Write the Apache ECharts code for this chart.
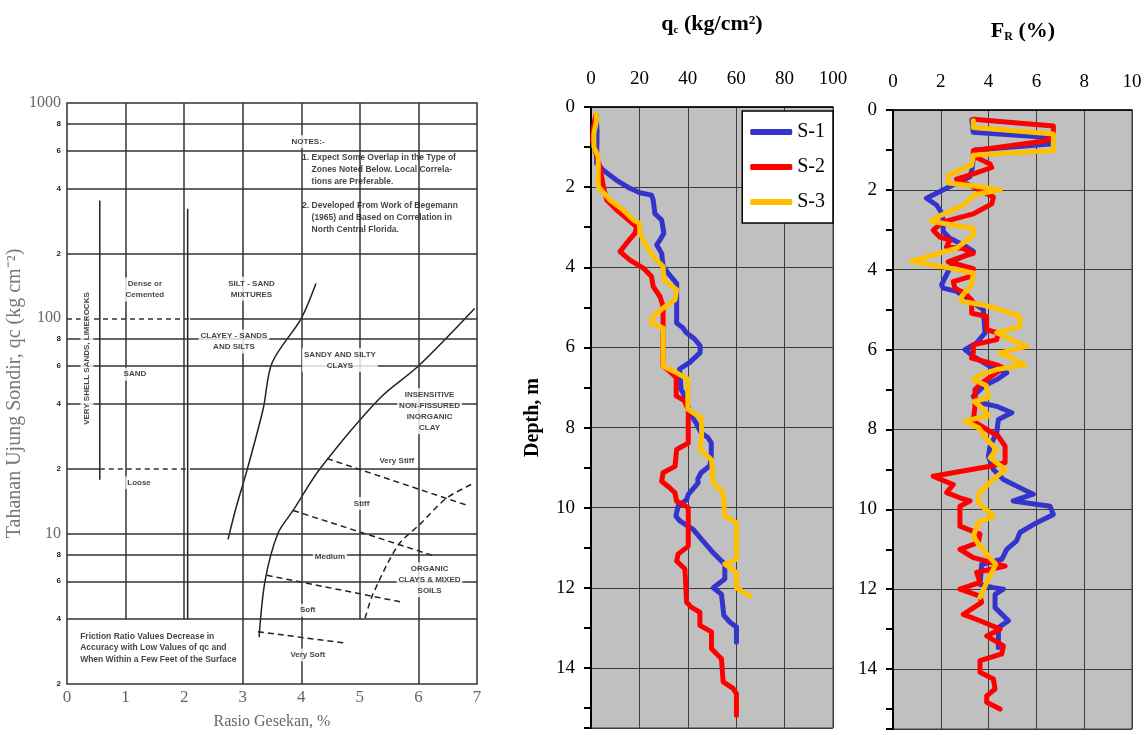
<!DOCTYPE html>
<html lang="en">
<head>
<meta charset="UTF-8">
<title>CPT profiles</title>
<script src="https://cdn.jsdelivr.net/npm/echarts@6/dist/echarts.min.js"></script>
<style>
  html, body { margin: 0; padding: 0; background: #fff; }
  #chart { width: 1148px; height: 735px; }
</style>
</head>
<body>
<div id="chart"></div>
<script>
  // ---- left: classification chart (friction ratio % vs qc, log) ----
  var qcTicks = [2, 4, 6, 8, 10, 20, 40, 60, 80, 100, 200, 400, 600, 800, 1000];
  var hGridFull = [800, 600, 400, 200, 80, 60, 40, 10, 8, 6, 4];
  var vGridFull = [3, 4, 6];
  var vGridTo4 = [1, 2, 5];

  var siltSandLine = [[2.75, 9.4], [2.88, 13], [3.08, 20], [3.35, 38], [3.5, 62], [4.0, 100], [4.25, 145]];
  var clayLine = [[3.28, 3.3], [3.38, 6], [3.6, 10], [3.86, 12.8], [4.32, 20], [5.34, 42.5], [6.0, 60], [6.96, 111]];
  var organicLine = [[5.09, 4.05], [5.22, 5.2], [5.65, 8.8], [6.02, 11], [6.48, 14.6], [6.96, 17.2]];
  var veryStiffLine = [[4.44, 22.3], [6.84, 13.5]];
  var stiffLine = [[3.86, 12.8], [6.25, 7.9]];
  var mediumLine = [[3.41, 6.4], [5.72, 4.8]];
  var softLine = [[3.26, 3.5], [4.74, 3.1]];
  var shellLine = [[0.56, 352], [0.56, 17.8]];
  var sandLine = [[2.06, 323], [2.06, 4]];

  var zoneLabels = [
    { name: 'Dense or\nCemented', value: [1.33, 136] },
    { name: 'SILT - SAND\nMIXTURES', value: [3.15, 137] },
    { name: 'CLAYEY - SANDS\nAND SILTS', value: [2.85, 78] },
    { name: 'SAND', value: [1.16, 55] },
    { name: 'SANDY AND SILTY\nCLAYS', value: [4.66, 64] },
    { name: 'INSENSITIVE\nNON-FISSURED\nINORGANIC\nCLAY', value: [6.19, 37] },
    { name: 'Very Stiff', value: [5.63, 21.7] },
    { name: 'Stiff', value: [5.03, 13.8] },
    { name: 'Medium', value: [4.49, 7.8] },
    { name: 'ORGANIC\nCLAYS & MIXED\nSOILS', value: [6.19, 6.1] },
    { name: 'Soft', value: [4.11, 4.4] },
    { name: 'Very Soft', value: [4.11, 2.73] },
    { name: 'Loose', value: [1.23, 17.2] }
  ];
  var shellLabel = { name: 'VERY SHELL SANDS, LIMEROCKS', value: [0.34, 65] };
  var notesTitle = { name: 'NOTES:-', value: [3.8, 660] };
  var notesText = { name: '1. Expect Some Overlap in the Type of\n    Zones Noted Below. Local Correla-\n    tions are Preferable.\n\n2. Developed From Work of Begemann\n    (1965) and Based on Correlation in\n    North Central Florida.', value: [3.98, 380] };
  var frictionNote = { name: 'Friction Ratio Values Decrease in\nAccuracy with Low Values of qc and\nWhen Within a Few Feet of the Surface', value: [0.19, 2.94] };

  // ---- CPT profiles: [depth m, qc kg/cm2] ----
  var s1Qc = [[0.2, 2.1], [0.6, 2.5], [1.4, 2.3], [1.58, 5.1], [1.83, 10.6], [2.03, 16.1], [2.14, 20.2], [2.2, 25],
    [2.32, 25.7], [2.66, 26.4], [2.82, 29.2], [3.15, 30.1], [3.32, 28.5], [3.44, 27.1], [3.65, 29.2], [3.98, 29.8],
    [4.15, 31.9], [4.4, 35.4], [5.39, 35.4], [5.52, 38.1], [5.63, 39.3], [5.79, 42.8], [5.96, 45.1], [6.13, 45.1],
    [6.38, 40.7], [6.54, 36.6], [7.04, 37.2], [7.3, 39.5], [7.6, 40.5], [7.9, 43.5], [8.13, 45.5], [8.25, 48.3],
    [8.38, 49.7], [8.79, 49.7], [8.96, 49], [9.13, 45.5], [9.29, 44.1], [9.38, 44.3], [9.67, 40.2], [9.8, 39.5],
    [9.96, 36], [10.21, 35.1], [10.33, 36.7], [10.54, 42.2], [10.79, 45.7], [11.08, 49.8], [11.33, 53.9],
    [11.41, 55.3], [11.78, 55.3], [12.0, 50.5], [12.16, 53.9], [12.69, 54.9], [12.86, 57.4], [12.98, 60.1], [13.36, 60.1]];
  var s2Qc = [[0.2, 2], [0.5, 1], [0.83, 0.7], [1.08, 1.7], [1.49, 3.7], [1.99, 5.1], [2.32, 6.5], [2.57, 10.6],
    [2.78, 14.7], [2.99, 18.8], [3.15, 18.2], [3.4, 14.7], [3.61, 12], [3.82, 16.1], [4.02, 21.6], [4.23, 25],
    [4.48, 25.7], [4.73, 28.5], [4.98, 29.8], [6.46, 29.7], [6.63, 33.1], [6.75, 35.2], [7.21, 35.2], [7.33, 38.6],
    [7.56, 40.2], [8.39, 40.2], [8.55, 35.4], [8.97, 34.7], [9.13, 29.8], [9.34, 29.2], [9.51, 32.6], [9.63, 34.7],
    [9.84, 35.4], [10.0, 40.2], [10.96, 40.2], [11.16, 36], [11.33, 35.4], [11.53, 38.8], [12.36, 39.5],
    [12.49, 41.5], [12.61, 45], [12.94, 45], [13.1, 49.8], [13.52, 49.8], [13.77, 53.9], [14.35, 54.6],
    [14.51, 58.7], [14.64, 60.1], [15.18, 60.1]];
  var s3Qc = [[0.17, 2.1], [0.33, 2.3], [0.66, 1.2], [1.0, 1.2], [1.24, 3], [1.99, 3], [2.32, 7.8], [2.57, 13.3],
    [2.82, 17.5], [2.9, 20], [3.15, 20.2], [3.49, 23], [3.78, 26.4], [3.98, 29.8], [4.32, 30.1], [4.56, 35.4],
    [4.81, 34.7], [5.02, 29.8], [5.27, 25], [5.39, 25], [5.52, 29.8], [6.47, 29.8], [6.63, 35.2], [6.79, 40],
    [7.54, 40], [7.77, 45.7], [8.22, 45.7], [8.55, 45], [8.8, 49.8], [9.38, 50.5], [9.63, 54.6], [10.21, 55.3],
    [10.38, 60.1], [11.29, 60.1], [11.41, 55.3], [11.62, 60.1], [12.0, 60.1], [12.2, 65.6]];

  // ---- CPT profiles: [depth m, FR %] ----
  var s1Fr = [[0.25, 3.3], [0.56, 3.36], [0.69, 6.57], [0.85, 6.57], [1.0, 3.4], [1.5, 3.3], [1.67, 3.22], [1.79, 2.8],
    [2.21, 1.4], [2.38, 1.82], [2.54, 2.0], [2.75, 2.1], [3.04, 2.1], [3.21, 2.38], [3.38, 2.94], [3.54, 3.36],
    [3.79, 2.52], [4.04, 2.31], [4.38, 2.03], [4.46, 2.1], [4.54, 2.66], [4.71, 3.08], [5.0, 3.78], [5.58, 3.85],
    [5.83, 3.5], [6.0, 3.01], [6.17, 3.36], [6.42, 4.06], [6.58, 4.76], [6.75, 4.34], [6.92, 3.78], [7.17, 3.36],
    [7.33, 3.64], [7.42, 4.34], [7.58, 4.97], [7.75, 4.41], [8.08, 4.34], [8.42, 4.06], [8.67, 3.99], [9.0, 4.2],
    [9.25, 4.62], [9.5, 5.45], [9.62, 5.87], [9.79, 5.03], [9.92, 6.57], [10.13, 6.71], [10.38, 5.87], [10.58, 5.31],
    [10.79, 5.17], [11.0, 4.76], [11.17, 4.62], [11.25, 4.55], [11.38, 3.71], [11.88, 3.64], [11.96, 4.2],
    [12.0, 4.62], [12.13, 4.27], [12.46, 4.27], [12.79, 4.83], [12.96, 4.41], [13.46, 4.41]];
  var s2Fr = [[0.23, 3.36], [0.4, 6.71], [0.6, 6.71], [0.77, 6.43], [1.02, 3.36], [1.15, 3.36], [1.35, 4.06],
    [1.44, 4.13], [1.6, 3.36], [1.73, 2.66], [1.93, 3.36], [2.1, 3.92], [2.18, 4.2], [2.35, 4.13], [2.51, 3.64],
    [2.6, 3.36], [2.8, 2.1], [3.01, 1.68], [3.18, 1.96], [3.26, 2.38], [3.43, 2.24], [3.47, 2.94], [3.59, 3.36],
    [3.72, 2.66], [3.8, 2.31], [3.97, 3.36], [4.17, 3.22], [4.3, 2.52], [4.46, 2.59], [4.59, 3.01], [4.76, 3.29],
    [5.09, 3.29], [5.17, 3.92], [5.5, 3.92], [5.59, 4.41], [5.75, 4.34], [5.88, 3.36], [6.08, 3.36], [6.21, 3.29],
    [6.38, 4.34], [6.46, 4.62], [6.75, 3.92], [6.88, 3.64], [7.0, 3.43], [7.42, 3.43], [7.79, 3.36], [8.0, 3.92],
    [8.17, 4.41], [8.42, 4.69], [8.83, 4.69], [8.92, 4.06], [9.17, 1.68], [9.38, 2.52], [9.58, 2.24], [9.71, 2.8],
    [9.79, 3.22], [9.92, 2.8], [10.42, 2.8], [10.62, 3.64], [10.83, 3.57], [11.0, 2.8], [11.21, 3.36], [11.42, 4.69],
    [11.58, 3.5], [11.83, 3.64], [12.0, 2.8], [12.17, 3.64], [12.33, 3.71], [12.63, 2.94], [12.79, 3.64],
    [13.0, 4.48], [13.17, 3.92], [13.42, 4.62], [13.62, 4.55], [13.79, 3.64], [14.08, 3.64], [14.25, 4.2],
    [14.5, 4.27], [14.67, 3.92], [14.83, 3.92], [15.0, 4.48]];
  var s3Fr = [[0.27, 3.36], [0.44, 3.36], [0.6, 6.71], [1.02, 6.71], [1.13, 3.36], [1.38, 3.29], [1.63, 2.31],
    [1.83, 2.31], [1.92, 3.64], [2.0, 4.48], [2.13, 3.36], [2.25, 3.22], [2.38, 2.94], [2.71, 1.75], [2.79, 1.61],
    [2.96, 3.36], [3.13, 3.36], [3.46, 2.66], [3.79, 0.77], [3.96, 2.38], [4.08, 3.36], [4.38, 3.29], [4.67, 2.87],
    [4.79, 2.87], [4.92, 4.06], [5.17, 5.31], [5.42, 5.31], [5.58, 4.34], [5.92, 5.59], [6.08, 4.48], [6.38, 5.52],
    [6.5, 4.34], [6.63, 3.64], [6.75, 3.36], [6.9, 3.9], [7.2, 4.0], [7.3, 3.4], [7.45, 3.7], [7.65, 4.0],
    [7.79, 3.0], [7.96, 3.6], [8.25, 3.92], [8.5, 4.34], [8.71, 4.06], [9.0, 4.7], [9.25, 4.2], [9.58, 3.6],
    [9.83, 3.57], [10.17, 4.2], [10.33, 3.57], [10.67, 3.36], [10.92, 3.64], [11.38, 4.3], [11.83, 3.92], [12.2, 3.64]];

  var seriesNames = ['S-1', 'S-2', 'S-3'];
  var seriesColors = ['#3434cc', '#ff0000', '#ffc000'];

  var serif = 'Liberation Serif';
  var myChart = echarts.init(document.getElementById('chart'));

  function swap(arr) {
    return arr.map(function (p) { return [p[1], p[0]]; });
  }

  // black lines of the scanned chart
  function boundary(data, dashed) {
    return {
      type: 'line', xAxisIndex: 0, yAxisIndex: 0, data: data, symbol: 'none', z: 4, silent: true,
      smooth: data.length > 2 ? 0.3 : false,
      lineStyle: { color: '#222', width: 1.5, type: dashed ? [6, 4] : 'solid' }
    };
  }

  function profile(name, data, xi, yi, color) {
    return {
      name: name, type: 'line', xAxisIndex: xi, yAxisIndex: yi, data: swap(data),
      symbol: 'none', z: 3,
      lineStyle: { color: color, width: 5, join: 'round', cap: 'round' },
      itemStyle: { color: color }
    };
  }

  var gridMark = [];
  hGridFull.forEach(function (v) { gridMark.push({ yAxis: v }); });
  vGridFull.forEach(function (v) { gridMark.push({ xAxis: v }); });
  vGridTo4.forEach(function (v) { gridMark.push([{ coord: [v, 4] }, { coord: [v, 1000] }]); });
  gridMark.push([{ coord: [2.1, 100] }, { coord: [7, 100] }]);
  gridMark.push([{ coord: [0, 20] }, { coord: [0.56, 20] }]);
  gridMark.push([{ coord: [2.1, 20] }, { coord: [7, 20] }]);

  var dashedMark = [
    [{ coord: [0, 100] }, { coord: [2.1, 100] }],
    [{ coord: [0.56, 20] }, { coord: [2.1, 20] }]
  ];

  var labelBase = {
    show: true, position: 'inside', color: '#111', fontFamily: 'Liberation Sans Narrow, Liberation Sans',
    fontWeight: 'bold', fontSize: 8, lineHeight: 11, backgroundColor: '#fff', padding: [1, 2]
  };

  var textData = zoneLabels.map(function (d) {
    return { name: d.name, value: d.value, label: {} };
  });
  textData.push({ name: shellLabel.name, value: shellLabel.value, label: { rotate: 90, fontSize: 8 } });
  textData.push({ name: notesTitle.name, value: notesTitle.value, label: { position: 'right', distance: 0 } });
  textData.push({ name: notesText.name, value: notesText.value,
    label: { position: 'right', distance: 0, fontSize: 8.5, lineHeight: 12, backgroundColor: 'transparent' } });
  textData.push({ name: frictionNote.name, value: frictionNote.value,
    label: { position: 'right', distance: 0, fontSize: 8.5, lineHeight: 11.5 } });

  var series = [
    {
      type: 'line', xAxisIndex: 0, yAxisIndex: 0, data: [], symbol: 'none', z: 2, silent: true,
      markLine: { symbol: 'none', silent: true, label: { show: false },
        lineStyle: { color: '#333', width: 1.5, type: 'solid' }, data: gridMark }
    },
    {
      type: 'line', xAxisIndex: 0, yAxisIndex: 0, data: [], symbol: 'none', z: 2, silent: true,
      markLine: { symbol: 'none', silent: true, label: { show: false },
        lineStyle: { color: '#333', width: 1.5, type: [5, 4] }, data: dashedMark }
    },
    {
      type: 'line', xAxisIndex: 0, yAxisIndex: 0, data: [], symbol: 'none', z: 3, silent: true,
      markArea: { silent: true, itemStyle: { color: '#fff' }, data: [[{ coord: [3.72, 265] }, { coord: [6.95, 760] }]] }
    },
    boundary(siltSandLine, false),
    boundary(clayLine, false),
    boundary(organicLine, true),
    boundary(veryStiffLine, true),
    boundary(stiffLine, true),
    boundary(mediumLine, true),
    boundary(softLine, true),
    boundary(shellLine, false),
    boundary(sandLine, false),
    {
      type: 'scatter', xAxisIndex: 0, yAxisIndex: 0, symbolSize: 0, z: 6, silent: true,
      label: Object.assign({}, labelBase, { formatter: '{b}' }),
      data: textData
    }
  ];

  [s1Qc, s2Qc, s3Qc].forEach(function (d, i) {
    series.push(profile(seriesNames[i], d, 1, 1, seriesColors[i]));
  });
  [s1Fr, s2Fr, s3Fr].forEach(function (d, i) {
    series.push(profile(seriesNames[i], d, 2, 3, seriesColors[i]));
  });

  function depthAxis(grid, withName) {
    return {
      type: 'value', gridIndex: grid, inverse: true, min: 0, max: 15.5, interval: 2,
      axisLine: { show: true, lineStyle: { color: '#000', width: 2 } },
      axisTick: { show: false },
      axisLabel: { color: '#000', fontFamily: serif, fontSize: 19, margin: 16, showMaxLabel: false },
      splitLine: { show: true, lineStyle: { color: '#3c3c3c', width: 1 } },
      name: withName ? 'Depth, m' : '', nameLocation: 'middle', nameGap: 48, nameRotate: 90,
      nameTextStyle: { color: '#000', fontFamily: serif, fontSize: 20, fontWeight: 'bold' }
    };
  }
  function depthTicks(grid) {
    return {
      type: 'value', gridIndex: grid, inverse: true, min: 0, max: 15.5, interval: 1, position: 'left',
      axisLine: { show: false }, axisLabel: { show: false }, splitLine: { show: false },
      axisTick: { show: true, length: 7, lineStyle: { color: '#000', width: 2 } }
    };
  }
  function topAxis(grid, max, step) {
    return {
      type: 'value', gridIndex: grid, position: 'top', min: 0, max: max, interval: step,
      axisLine: { show: true, lineStyle: { color: '#000', width: 1.5 } },
      axisTick: { show: false },
      axisLabel: { color: '#000', fontFamily: serif, fontSize: 19, margin: 18 },
      splitLine: { show: true, lineStyle: { color: '#3c3c3c', width: 1 } }
    };
  }

  var options = {
    animation: false,
    backgroundColor: '#fff',
    grid: [
      { left: 67, top: 103, width: 410, height: 584, show: true, backgroundColor: '#fff', borderColor: '#333', borderWidth: 1.5 },
      { left: 591, top: 107, width: 242, height: 621, show: true, backgroundColor: '#c0c0c0', borderColor: '#3c3c3c', borderWidth: 1 },
      { left: 893, top: 110, width: 239, height: 619, show: true, backgroundColor: '#c0c0c0', borderColor: '#3c3c3c', borderWidth: 1 }
    ],
    xAxis: [
      {
        type: 'value', gridIndex: 0, min: 0, max: 7, interval: 1,
        axisLine: { show: false }, axisTick: { show: false }, splitLine: { show: false },
        axisLabel: { color: '#666', fontFamily: serif, fontSize: 17, margin: 5 },
        name: 'Rasio Gesekan, %', nameLocation: 'middle', nameGap: 30,
        nameTextStyle: { color: '#666', fontFamily: serif, fontSize: 16 }
      },
      topAxis(1, 100, 20),
      topAxis(2, 10, 2)
    ],
    yAxis: [
      {
        type: 'log', gridIndex: 0, logBase: 10, min: 2, max: 1000,
        axisLine: { show: false }, axisTick: { show: false }, splitLine: { show: false },
        axisLabel: {
          customValues: qcTicks, margin: 6,
          formatter: function (v) {
            var r = Math.round(v);
            if (r === 10 || r === 100 || r === 1000) return '{big|' + r + '}';
            return '{small|' + String(r).charAt(0) + '}';
          },
          rich: {
            big: { color: '#666', fontFamily: serif, fontSize: 16 },
            small: { color: '#222', fontFamily: 'Liberation Sans', fontWeight: 'bold', fontSize: 8 }
          }
        },
        name: 'Tahanan Ujung Sondir, qc (kg cm\u207B\u00B2)', nameLocation: 'middle', nameGap: 42, nameRotate: 90,
        nameTextStyle: { color: '#777', fontFamily: serif, fontSize: 20 }
      },
      depthAxis(1, true),
      depthTicks(1),
      depthAxis(2, false),
      depthTicks(2)
    ],
    legend: {
      data: seriesNames, orient: 'vertical', right: 315, top: 111,
      backgroundColor: '#fff', borderColor: '#000', borderWidth: 1.5, borderRadius: 0,
      padding: [11, 8, 11, 8], itemGap: 15, itemWidth: 42, itemHeight: 6, icon: 'roundRect',
      textStyle: { color: '#000', fontFamily: serif, fontSize: 20, padding: [0, 0, 0, 0] }
    },
    graphic: [
      {
        type: 'text', x: 712, y: 24,
        style: {
          text: '{a|q}{s|c}{a| (kg/cm\u00B2)}', align: 'center', verticalAlign: 'middle',
          rich: {
            a: { fontFamily: serif, fontWeight: 'bold', fontSize: 22, fill: '#000', lineHeight: 24 },
            s: { fontFamily: serif, fontWeight: 'bold', fontSize: 11, fill: '#000', verticalAlign: 'bottom', lineHeight: 24 }
          }
        }
      },
      {
        type: 'text', x: 1023, y: 31,
        style: {
          text: '{a|F}{s|R}{a| (%)}', align: 'center', verticalAlign: 'middle',
          rich: {
            a: { fontFamily: serif, fontWeight: 'bold', fontSize: 22, fill: '#000', lineHeight: 24 },
            s: { fontFamily: serif, fontWeight: 'bold', fontSize: 12, fill: '#000', verticalAlign: 'bottom', lineHeight: 24 }
          }
        }
      }
    ],
    series: series
  };

  myChart.setOption(options);
</script>
</body>
</html>
